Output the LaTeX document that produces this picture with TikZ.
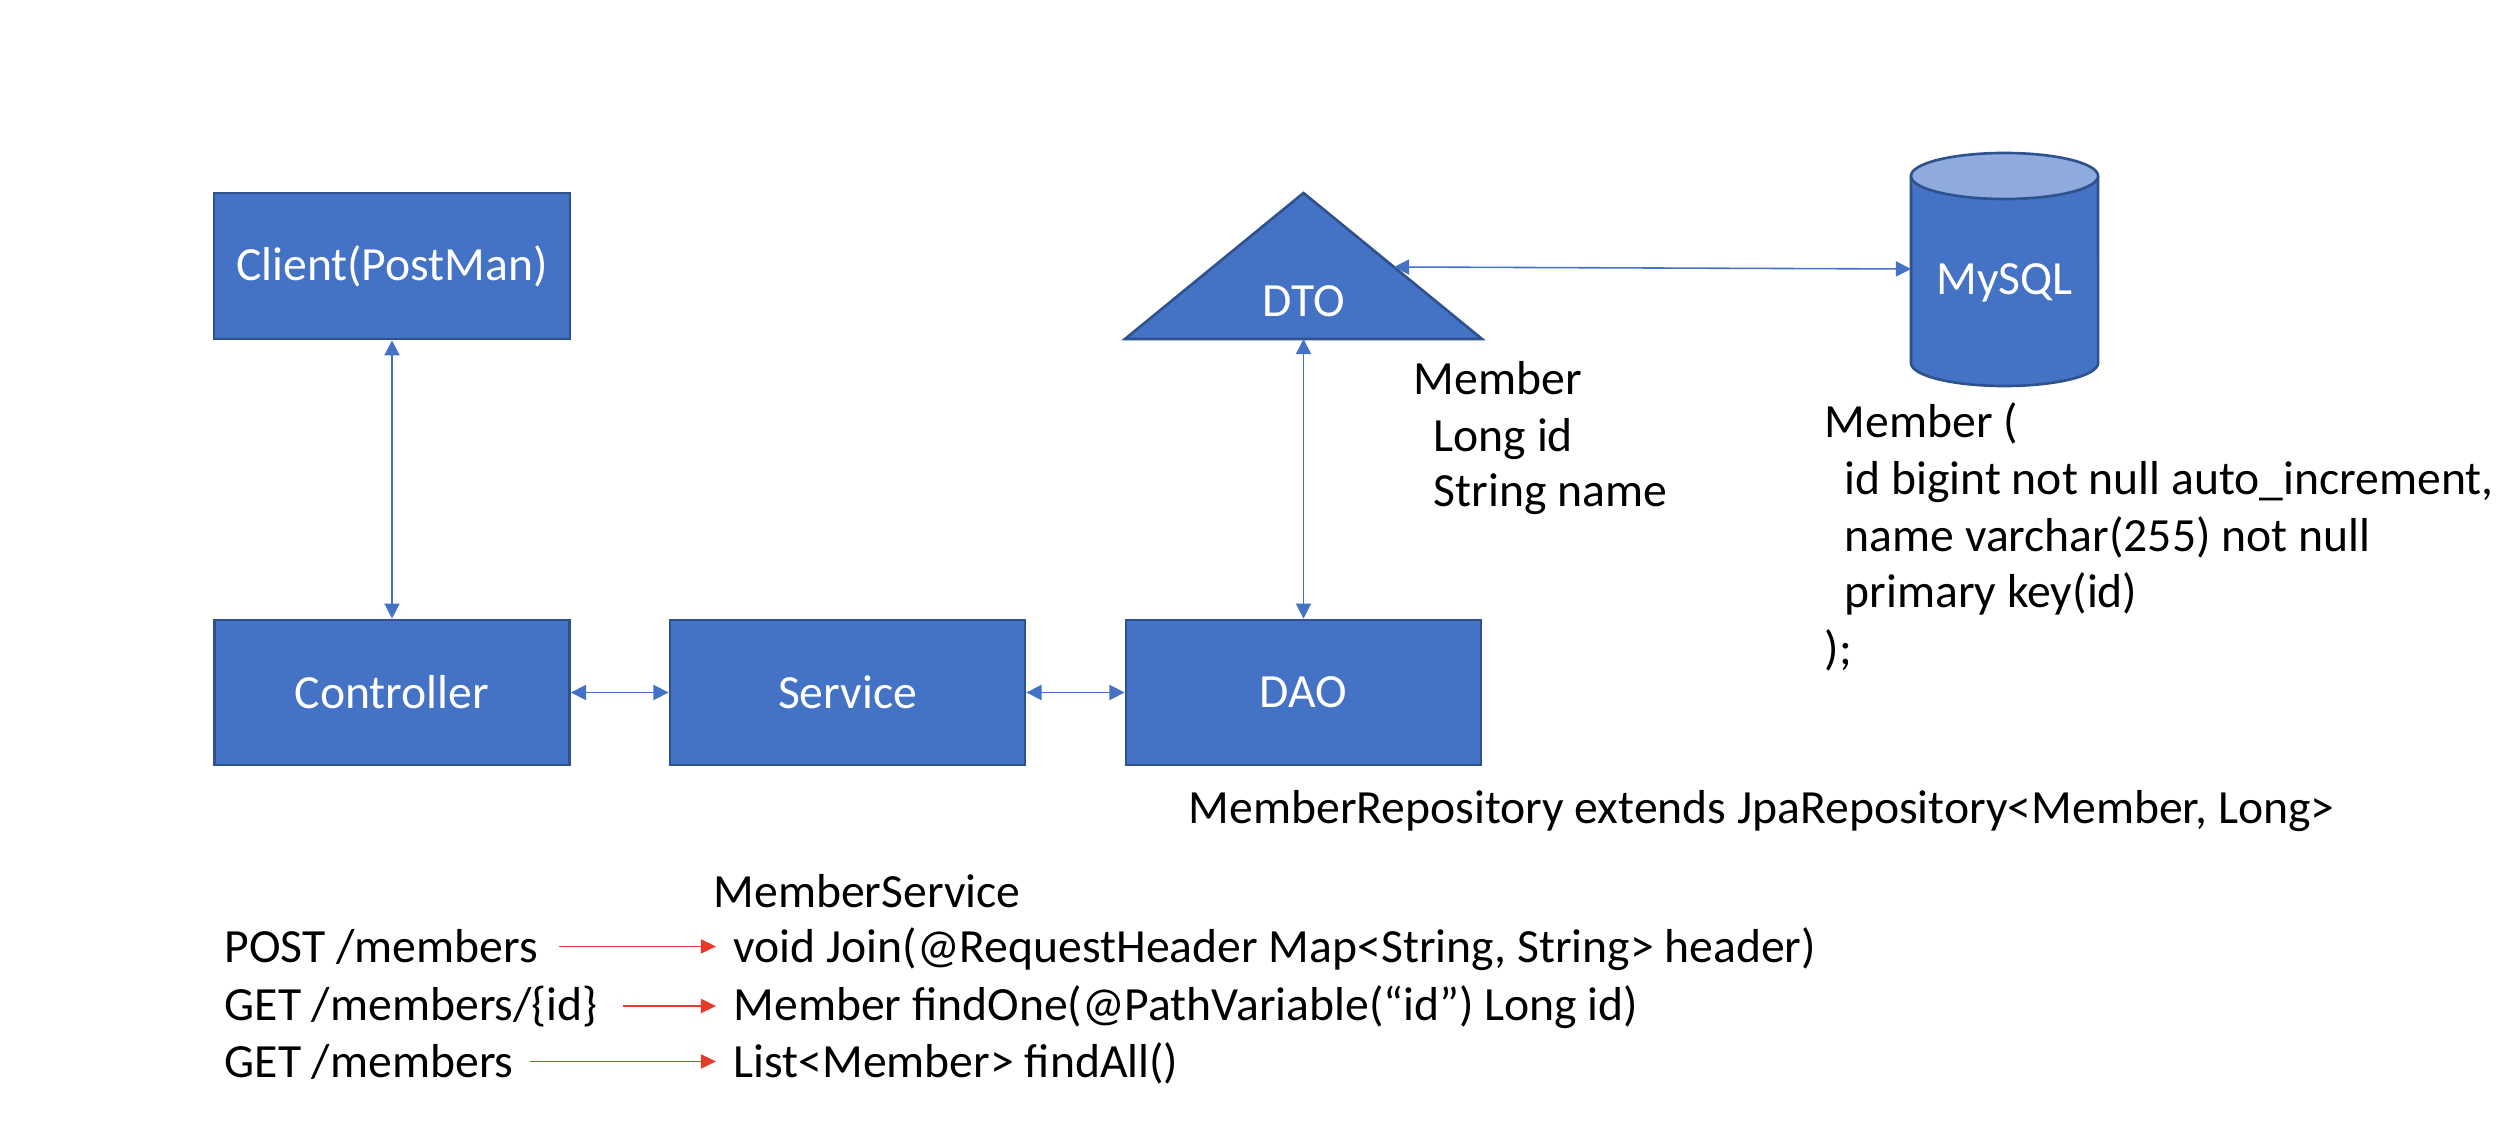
\documentclass[tikz,border=0pt]{standalone}
\usepackage{fontspec}
\setmainfont{Carlito}
\usetikzlibrary{arrows.meta}
\definecolor{boxfill}{HTML}{4472C4}
\definecolor{boxline}{HTML}{2F528F}
\definecolor{topfill}{HTML}{8FAADC}
\definecolor{redarrow}{HTML}{E8392B}
\begin{document}
\begin{tikzpicture}[x=0.01cm,y=-0.01cm,
  every node/.style={font=\fontsize{13.55}{16}\selectfont},
  blockbox/.style={draw=boxline, fill=boxfill, line width=0.75pt, minimum width=3.55cm, minimum height=1.45cm, text=white, inner sep=0pt},
  shapetext/.style={text=white, inner sep=0pt, anchor=base},
  link/.style={draw=boxfill, line width=0.45pt, {Triangle[length=4.3pt,width=4.3pt]}-{Triangle[length=4.3pt,width=4.3pt]}},
  redlink/.style={draw=redarrow, line width=0.55pt, -{Triangle[length=4.3pt,width=4pt]}},
  txt/.style={anchor=base west, inner sep=0pt}
]
\fill[white] (0,0) rectangle (2496,1140);
\useasboundingbox (0,0) rectangle (2496,1140);

% boxes
\node[blockbox, minimum width=3.56cm, minimum height=1.46cm] (client) at (392,266) {Client(PostMan)};
\node[blockbox] (controller) at (392,692.5) {Controller};
\node[blockbox] (service) at (847.5,692.5) {Service};
\node[blockbox] (dao) at (1303.5,692.5) {DAO};

% DTO triangle
\draw[draw=boxline, fill=boxfill, line width=0.75pt] (1303.5,193) -- (1482,339) -- (1125,339) -- cycle;
\node[shapetext] (dto) at (1303.5,317) {DTO};
\coordinate (dtobase) at (1303.5,339);
\coordinate (dtoedge) at (1394,267);

% MySQL cylinder
\fill[boxfill] (1911,176) -- (1911,363) arc[start angle=180, end angle=360, x radius=0.935cm, y radius=0.23cm] -- (2098,176) -- cycle;
\draw[boxline, line width=0.75pt] (1911,176) -- (1911,363) arc[start angle=180, end angle=360, x radius=0.935cm, y radius=0.23cm] -- (2098,176);
\draw[boxline, fill=topfill, line width=0.75pt] (2004.5,176) ellipse [x radius=0.935cm, y radius=0.23cm];
\node[shapetext] (mysql) at (2004.5,295) {MySQL};
\coordinate (dbleft) at (1911,269);

% connectors
\draw[link] (client.south) -- (controller.north);
\draw[link] (controller.east) -- (service.west);
\draw[link] (service.east) -- (dao.west);
\draw[link] (dao.north) -- (dtobase);
\draw[link] (dtoedge) -- (dbleft);

% DTO fields
\node[txt] (m1) at (1413,395) {Member};
\node[txt] (m2) at (1433,452) {Long id};
\node[txt] (m3) at (1433,507) {String name};

% SQL
\node[txt] (s1) at (1824,438) {Member (};
\node[txt] (s2) at (1844,495) {id bigint not null auto\_increment,};
\node[txt] (s3) at (1844,552) {name varchar(255) not null};
\node[txt] (s4) at (1844,608) {primary key(id)};
\node[txt] (s5) at (1824,665) {);};

% repository
\node[txt] (repo) at (1188,823) {MemberRepository extends JpaRepository<Member, Long>};

% service mapping
\node[txt] (msvc) at (713,907) {MemberService};
\node[txt] (post) at (224,962) {POST /members};
\node[txt] (join) at (733,962) {void Join(@RequestHeader Map<String, String> header)};
\node[txt] (getid) at (224,1020) {GET /members/\{id\}};
\node[txt] (findone) at (733,1020) {Member findOne(@PathVariable(“id”) Long id)};
\node[txt] (getall) at (224,1077) {GET /members};
\node[txt] (findall) at (733,1077) {List<Member> findAll()};

\draw[redlink] ([xshift=0.2cm]post.east) -- ([xshift=-0.17cm]post.east -| join.west);
\draw[redlink] ([xshift=0.24cm]getid.east) -- ([xshift=-0.17cm]getid.east -| findone.west);
\draw[redlink] ([xshift=0.16cm]getall.east) -- ([xshift=-0.17cm]getall.east -| findall.west);
\end{tikzpicture}
\end{document}
